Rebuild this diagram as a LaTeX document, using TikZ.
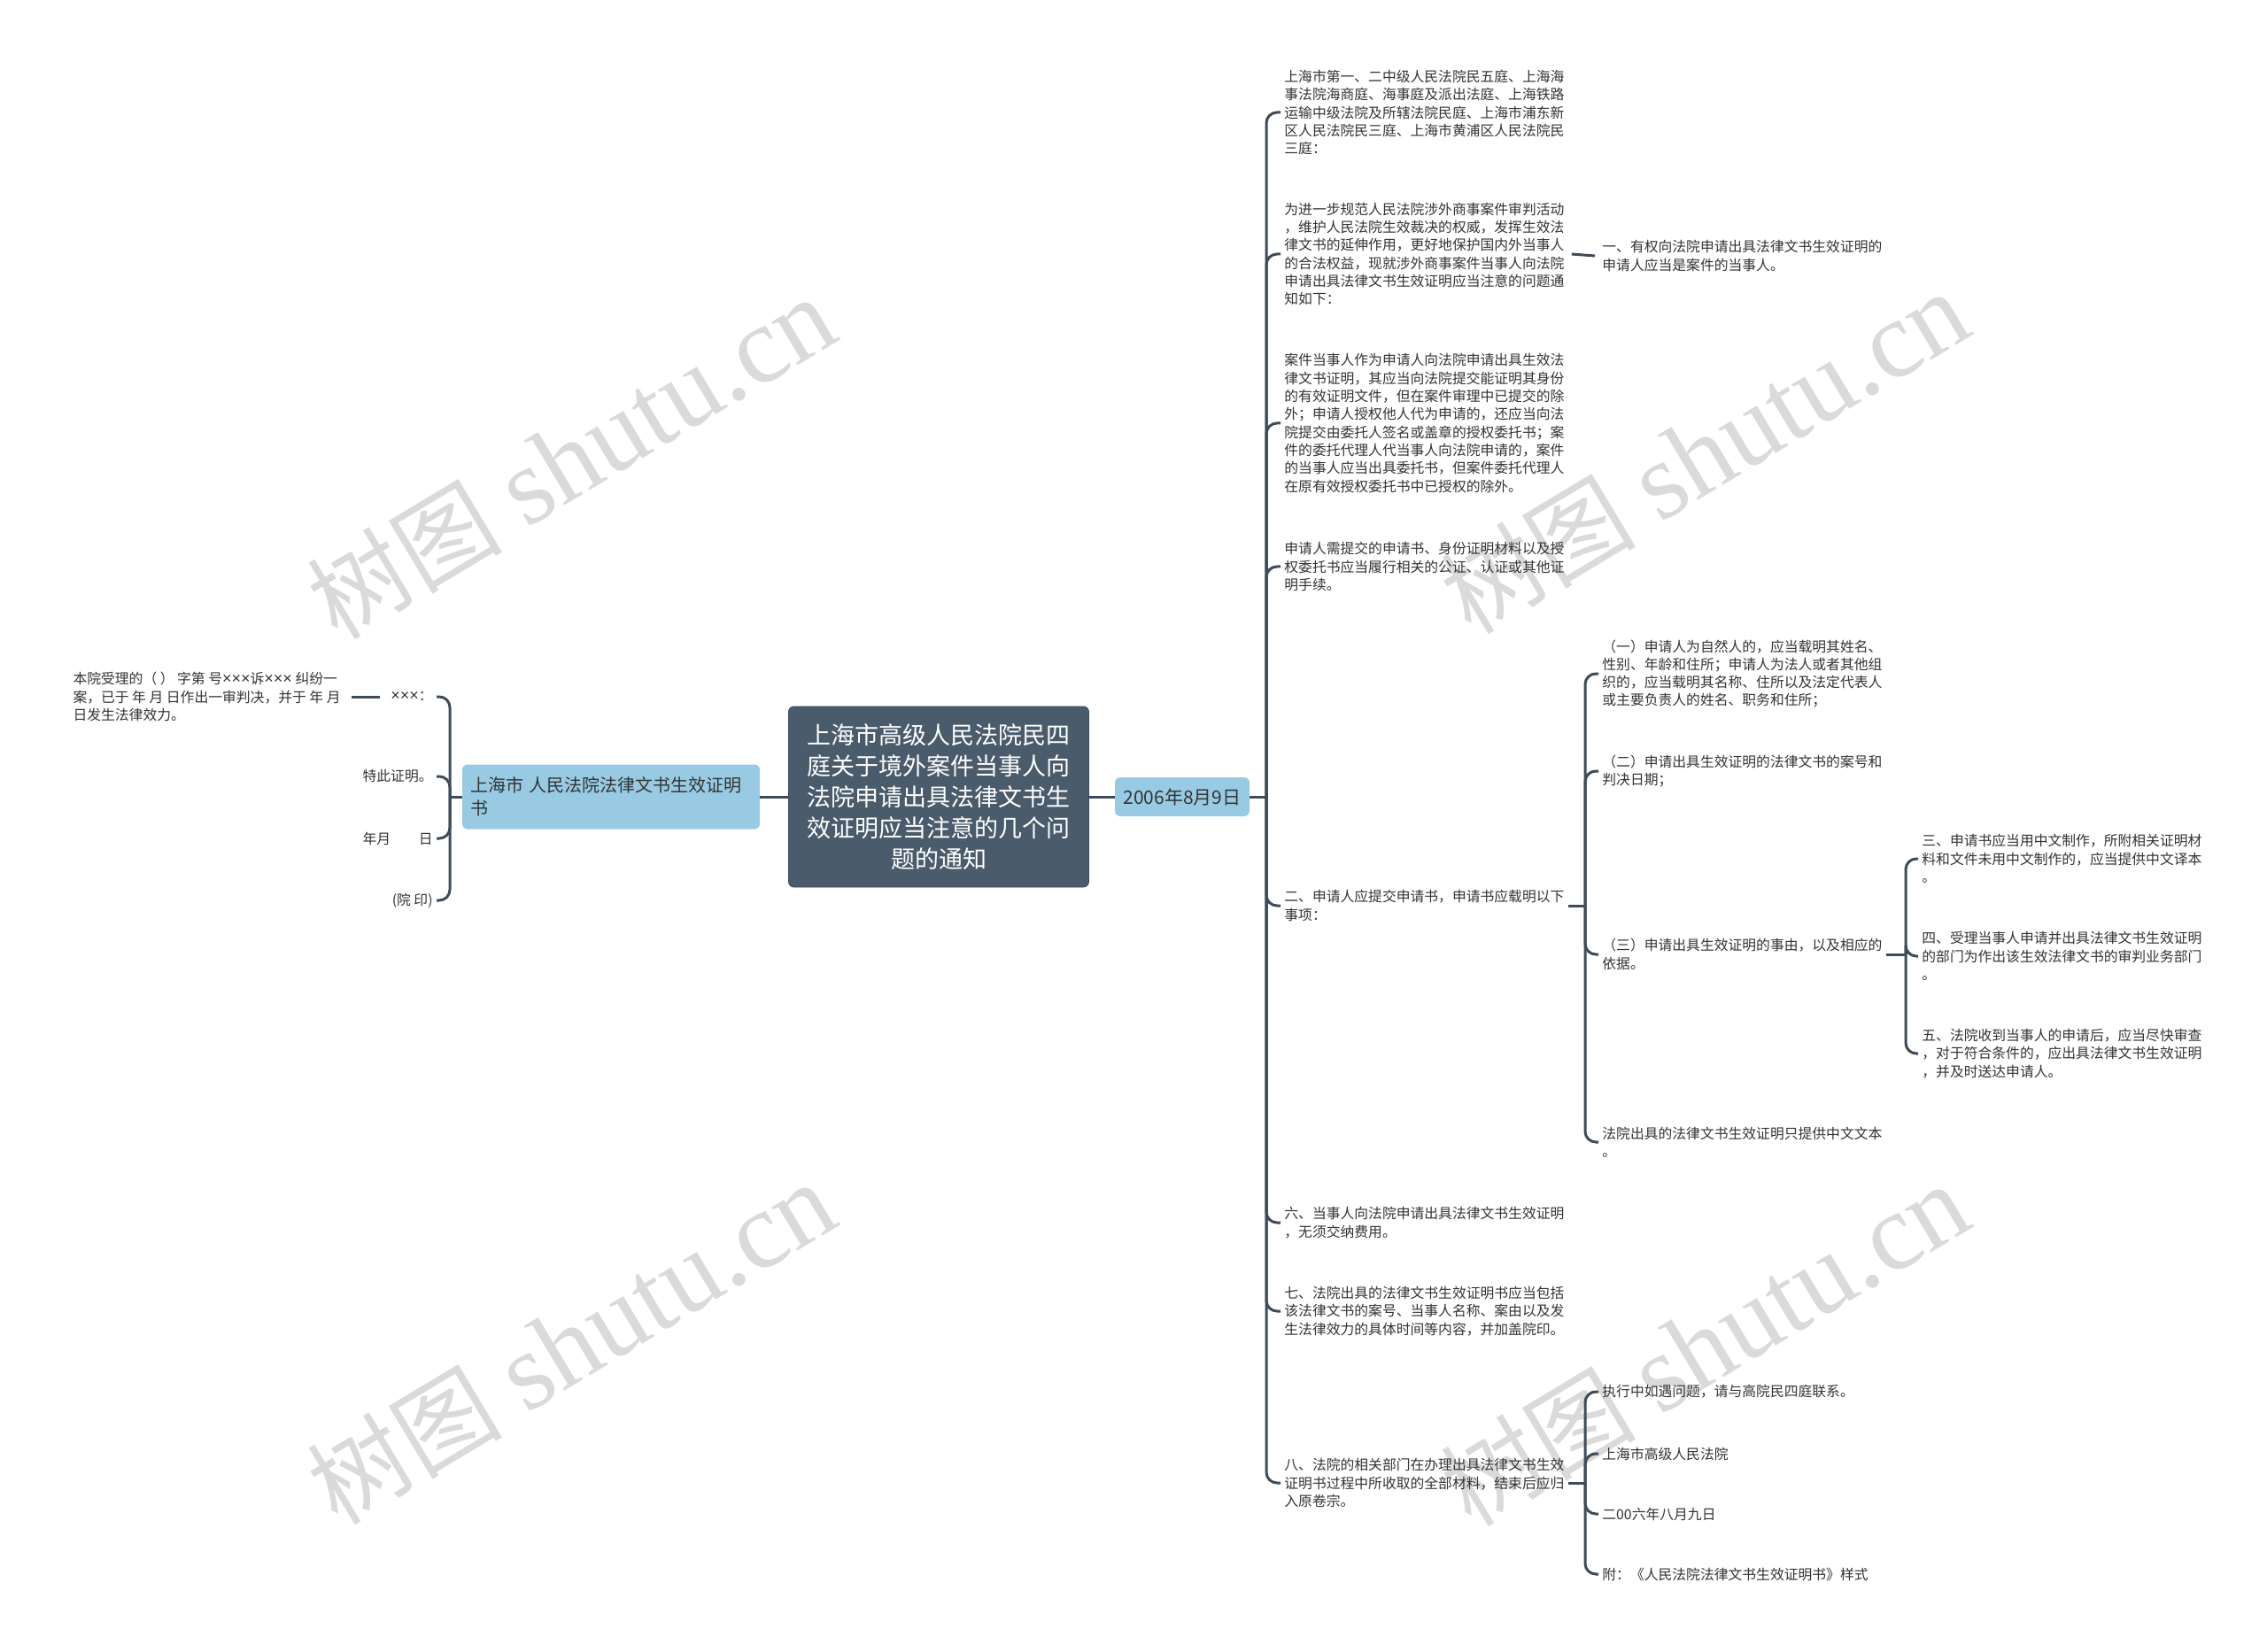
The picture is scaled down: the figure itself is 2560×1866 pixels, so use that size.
\documentclass[tikz,border=0pt]{standalone}
\usepackage{fontspec}
\setmainfont{Noto Sans CJK SC}
\newfontfamily\wmfont{Liberation Serif}
\newfontfamily\latfont{Liberation Sans}
\newcommand{\xx}{{\latfont\fontsize{9pt}{10pt}\selectfont ×}}
\definecolor{lc}{HTML}{3E4C5A}
\definecolor{rootc}{HTML}{4A5B6B}
\definecolor{bluec}{HTML}{98CBE3}
\definecolor{tc}{HTML}{333333}
\definecolor{wmc}{HTML}{D6D6D6}
\tikzset{
  conn/.style={draw=lc, line width=1.5pt, rounded corners=6pt},
  leaf/.style={inner xsep=2pt, inner ysep=1pt, align=left, text=tc, font=\fontsize{7.9pt}{10.15pt}\selectfont},
  leafr/.style={leaf, align=right},
  rootbox/.style={fill=rootc, draw=rootc!80!black, rounded corners=3pt, text=white, align=center,
    minimum width=169.5pt, minimum height=102pt, inner sep=0pt, font=\fontsize{13.5pt}{17.5pt}\selectfont},
  bluebox/.style={fill=bluec, rounded corners=3pt, text=tc, inner sep=0pt},
  wm/.style={text=wmc, opacity=0.9, font=\fontsize{62pt}{62pt}\selectfont, rotate=31}
}
\newcommand{\wmtext}{{\fontsize{55pt}{55pt}\selectfont 树图} {\wmfont shutu.cn}}
\begin{document}
\begin{tikzpicture}[x=0.5pt,y=-0.5pt]
\useasboundingbox (0,0) rectangle (2560,1866);
\fill[white] (0,0) rectangle (2560,1866);

% watermarks
\node[wm] (w1) at (645,518) {\wmtext};
\node[wm] (w2) at (1925,512) {\wmtext};
\node[wm] (w3) at (645,1518) {\wmtext};
\node[wm] (w4) at (1925,1520) {\wmtext};

% main nodes
\node[rootbox] (root) at (1060,900) {上海市高级人民法院民四\\庭关于境外案件当事人向\\法院申请出具法律文书生\\效证明应当注意的几个问\\题的通知};
\node[bluebox, minimum width=76pt, minimum height=22pt, font=\fontsize{10.5pt}{12pt}\selectfont] (date) at (1335,900) {2006年8月9日};
\node[bluebox, text width=159pt, inner xsep=4.5pt, minimum height=36.5pt, align=left, font=\fontsize{10pt}{13pt}\selectfont] (left) at (690,900) {上海市 人民法院法律文书生效证明\\书};

\draw[conn] (root.east) -- (date.west);
\draw[conn] (left.east) -- (root.west);

% right first level
\node[leaf, anchor=west] (c1) at (1446,127) {上海市第一、二中级人民法院民五庭、上海海\\事法院海商庭、海事庭及派出法庭、上海铁路\\运输中级法院及所辖法院民庭、上海市浦东新\\区人民法院民三庭、上海市黄浦区人民法院民\\三庭：};
\node[leaf, anchor=west] (c2) at (1446,287) {为进一步规范人民法院涉外商事案件审判活动\\，维护人民法院生效裁决的权威，发挥生效法\\律文书的延伸作用，更好地保护国内外当事人\\的合法权益，现就涉外商事案件当事人向法院\\申请出具法律文书生效证明应当注意的问题通\\知如下：};
\node[leaf, anchor=west] (c3) at (1446,478) {案件当事人作为申请人向法院申请出具生效法\\律文书证明，其应当向法院提交能证明其身份\\的有效证明文件，但在案件审理中已提交的除\\外；申请人授权他人代为申请的，还应当向法\\院提交由委托人签名或盖章的授权委托书；案\\件的委托代理人代当事人向法院申请的，案件\\的当事人应当出具委托书，但案件委托代理人\\在原有效授权委托书中已授权的除外。};
\node[leaf, anchor=west] (c4) at (1446,640) {申请人需提交的申请书、身份证明材料以及授\\权委托书应当履行相关的公证、认证或其他证\\明手续。};
\node[leaf, anchor=west] (c5) at (1446,1023) {二、申请人应提交申请书，申请书应载明以下\\事项：};
\node[leaf, anchor=west] (c6) at (1446,1381) {六、当事人向法院申请出具法律文书生效证明\\，无须交纳费用。};
\node[leaf, anchor=west] (c7) at (1446,1481) {七、法院出具的法律文书生效证明书应当包括\\该法律文书的案号、当事人名称、案由以及发\\生法律效力的具体时间等内容，并加盖院印。};
\node[leaf, anchor=west] (c8) at (1446,1675) {八、法院的相关部门在办理出具法律文书生效\\证明书过程中所收取的全部材料，结束后应归\\入原卷宗。};

\coordinate (jR) at (1430,900);
\draw[conn] (date.east) -- (jR);
\foreach \c in {c1,c2,c3,c4,c5,c6,c7,c8}{\draw[conn] (jR) |- (\c.west);}

% child of c2
\node[leaf, anchor=west] (c21) at (1805,289) {一、有权向法院申请出具法律文书生效证明的\\申请人应当是案件的当事人。};
\draw[conn] ([xshift=2pt]c2.east) -- ([xshift=-2pt]c21.west);

% children of c5
\node[leaf, anchor=west] (c51) at (1805,761) {（一）申请人为自然人的，应当载明其姓名、\\性别、年龄和住所；申请人为法人或者其他组\\织的，应当载明其名称、住所以及法定代表人\\或主要负责人的姓名、职务和住所；};
\node[leaf, anchor=west] (c52) at (1805,871) {（二）申请出具生效证明的法律文书的案号和\\判决日期；};
\node[leaf, anchor=west] (c53) at (1805,1078) {（三）申请出具生效证明的事由，以及相应的\\依据。};
\node[leaf, anchor=west] (c54) at (1805,1290) {法院出具的法律文书生效证明只提供中文文本\\。};
\coordinate (j5) at (1790,1023);
\draw[conn] (c5.east) -- (j5);
\foreach \c in {c51,c52,c53,c54}{\draw[conn] (j5) |- (\c.west);}

% children of c53
\node[leaf, anchor=west] (d1) at (2166,970) {三、申请书应当用中文制作，所附相关证明材\\料和文件未用中文制作的，应当提供中文译本\\。};
\node[leaf, anchor=west] (d2) at (2166,1080) {四、受理当事人申请并出具法律文书生效证明\\的部门为作出该生效法律文书的审判业务部门\\。};
\node[leaf, anchor=west] (d3) at (2166,1190) {五、法院收到当事人的申请后，应当尽快审查\\，对于符合条件的，应出具法律文书生效证明\\，并及时送达申请人。};
\coordinate (j53) at (2152,1078);
\draw[conn] (c53.east) -- (j53);
\foreach \c in {d1,d2,d3}{\draw[conn] (j53) |- (\c.west);}

% children of c8
\node[leaf, anchor=west] (c81) at (1805,1572) {执行中如遇问题，请与高院民四庭联系。};
\node[leaf, anchor=west] (c82) at (1805,1642) {上海市高级人民法院};
\node[leaf, anchor=west] (c83) at (1805,1710) {二00六年八月九日};
\node[leaf, anchor=west] (c84) at (1805,1778) {附：《人民法院法律文书生效证明书》样式};
\coordinate (j8) at (1790,1675);
\draw[conn] (c8.east) -- (j8);
\foreach \c in {c81,c82,c83,c84}{\draw[conn] (j8) |- (\c.west);}

% left side
\node[leafr, anchor=east] (l1) at (493,787) {\xx\xx\xx：};
\node[leafr, anchor=east] (l2) at (493,877) {特此证明。};
\node[leafr, anchor=east] (l3) at (493,947) {年月　　日};
\node[leafr, anchor=east] (l4) at (493,1017) {(院 印)};
\coordinate (jL) at (508,900);
\draw[conn] (left.west) -- (jL);
\foreach \c in {l1,l2,l3,l4}{\draw[conn] (jL) |- (\c.east);}

\node[leaf, anchor=east] (l0) at (389,787) {本院受理的（ ） 字第 号\xx\xx\xx 诉\xx\xx\xx\ 纠纷一\\案，已于 年 月 日作出一审判决，并于 年 月\\日发生法律效力。};
\draw[conn] ([xshift=-4pt]l1.west) -- ([xshift=4pt]l0.east);
\end{tikzpicture}
\end{document}
